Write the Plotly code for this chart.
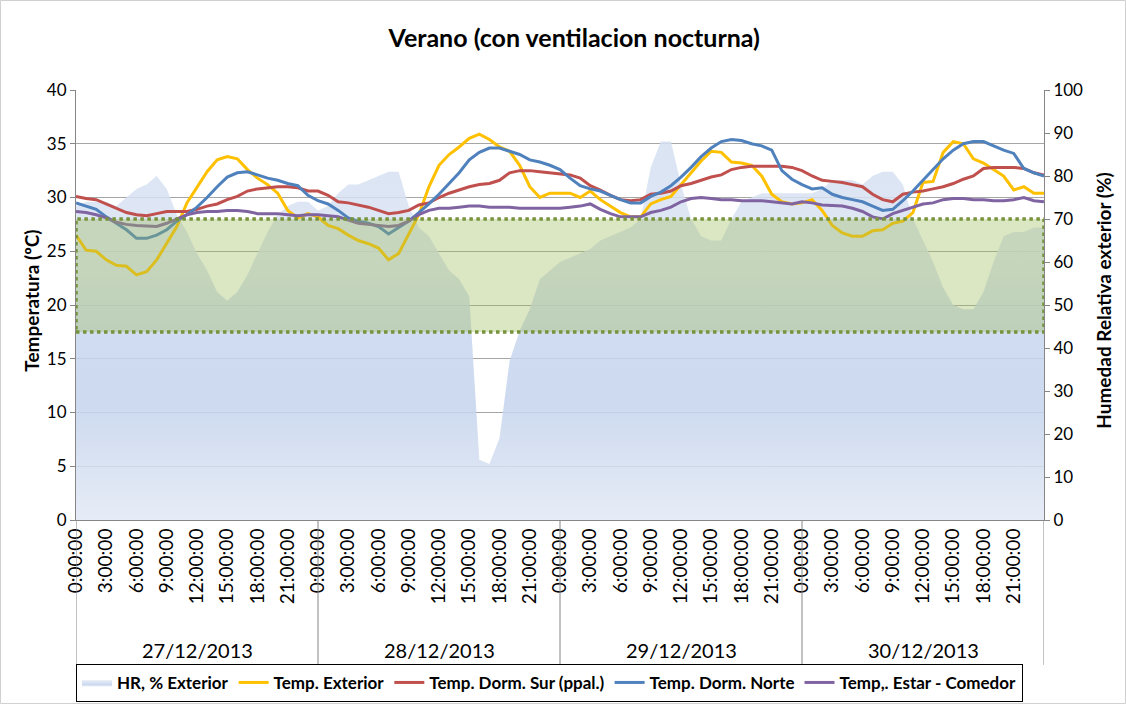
import plotly.graph_objects as go

# Hour index from 27/12/2013 0:00 (0) to 31/12/2013 0:00 (96)
hours = list(range(97))

# Temperature series (ºC), hourly readings
temp_exterior = [
    26.5, 25.1, 25.0, 24.2, 23.7, 23.6, 22.8, 23.1, 24.2, 25.8, 27.3, 29.5,
    31.0, 32.4, 33.5, 33.8, 33.6, 32.6, 31.8, 31.2, 30.4, 28.8, 28.1, 28.5,
    28.2, 27.4, 27.1, 26.5, 26.0, 25.7, 25.3, 24.2, 24.8, 26.6, 28.4, 31.0,
    33.0, 34.0, 34.7, 35.5, 35.9, 35.4, 34.7, 34.3, 33.0, 31.0, 30.0, 30.4,
    30.4, 30.4, 30.0, 30.6, 29.8, 29.2, 28.6, 28.2, 28.2, 29.4, 29.8, 30.1,
    31.2, 32.3, 33.4, 34.3, 34.2, 33.3, 33.2, 33.0, 32.0, 30.3, 29.6, 29.4,
    29.5, 29.8, 28.8, 27.4, 26.7, 26.4, 26.4, 26.9, 27.0, 27.6, 27.8, 28.6,
    31.4, 31.5, 34.2, 35.2, 35.0, 33.6, 33.2, 32.6, 32.0, 30.7, 31.0, 30.4,
    30.4,
]
temp_dorm_sur = [
    30.1, 29.9, 29.8, 29.4, 29.0, 28.6, 28.4, 28.3, 28.5, 28.7, 28.7, 28.7,
    28.9, 29.2, 29.4, 29.8, 30.1, 30.6, 30.8, 30.9, 31.0, 31.0, 30.9, 30.6,
    30.6, 30.2, 29.6, 29.5, 29.3, 29.1, 28.8, 28.5, 28.6, 28.8, 29.3, 29.5,
    30.0, 30.4, 30.7, 31.0, 31.2, 31.3, 31.6, 32.3, 32.5, 32.5, 32.4, 32.3,
    32.2, 32.1, 31.8, 31.1, 30.7, 30.2, 29.8, 29.7, 29.8, 30.3, 30.4, 30.6,
    31.1, 31.3, 31.6, 31.9, 32.1, 32.6, 32.8, 32.9, 32.9, 32.9, 32.9, 32.8,
    32.5, 32.0, 31.6, 31.5, 31.4, 31.2, 31.0, 30.3, 29.8, 29.6, 30.3, 30.5,
    30.6, 30.8, 31.0, 31.3, 31.7, 32.0, 32.7, 32.8, 32.8, 32.8, 32.7, 32.3,
    32.1,
]
temp_dorm_norte = [
    29.5, 29.2, 28.9, 28.2, 27.6, 27.0, 26.2, 26.2, 26.5, 27.0, 27.8, 28.4,
    29.1, 30.0, 31.0, 31.9, 32.3, 32.4, 32.1, 31.8, 31.6, 31.3, 31.1, 30.2,
    29.7, 29.4, 28.8, 28.1, 27.8, 27.6, 27.3, 26.6, 27.2, 27.8, 28.6, 29.4,
    30.3, 31.3, 32.3, 33.5, 34.2, 34.6, 34.6, 34.3, 34.0, 33.5, 33.3, 33.0,
    32.6, 31.8, 31.1, 30.8, 30.6, 30.2, 29.8, 29.5, 29.5, 30.1, 30.5, 31.1,
    31.9, 32.8, 33.8, 34.6, 35.2, 35.4, 35.3, 35.0, 34.8, 34.4, 32.5, 31.7,
    31.2, 30.8, 30.9, 30.3, 30.0, 29.8, 29.6, 29.2, 28.8, 28.9, 29.7, 30.6,
    31.6, 32.6, 33.6, 34.4, 35.0, 35.2, 35.2, 34.8, 34.4, 34.1, 32.7, 32.3,
    32.0,
]
temp_estar_comedor = [
    28.7, 28.6, 28.4, 28.1, 27.7, 27.5, 27.4, 27.35, 27.3, 27.6, 28.0, 28.4,
    28.6, 28.7, 28.7, 28.8, 28.8, 28.7, 28.5, 28.5, 28.5, 28.4, 28.3, 28.4,
    28.4, 28.3, 28.2, 27.9, 27.6, 27.5, 27.4, 27.3, 27.4, 27.8, 28.4, 28.8,
    29.0, 29.0, 29.1, 29.2, 29.2, 29.1, 29.1, 29.1, 29.0, 29.0, 29.0, 29.0,
    29.0, 29.1, 29.2, 29.4, 28.9, 28.5, 28.2, 28.2, 28.2, 28.6, 28.8, 29.1,
    29.6, 29.9, 30.0, 29.9, 29.8, 29.8, 29.7, 29.7, 29.7, 29.6, 29.5, 29.4,
    29.6, 29.5, 29.3, 29.25, 29.2, 29.0, 28.7, 28.2, 28.0, 28.5, 28.8, 29.1,
    29.4, 29.5, 29.8, 29.9, 29.9, 29.8, 29.8, 29.7, 29.7, 29.8, 30.0, 29.7,
    29.6,
]
# Outdoor relative humidity (%)
hr_exterior = [
    73, 74, 74, 74, 73, 75, 77, 78, 80, 77, 71, 67,
    62, 58, 53, 51, 53, 57, 62, 67, 71, 73, 74, 74,
    72, 73, 76, 78, 78, 79, 80, 81, 81, 73, 68, 66,
    62, 58, 56, 52, 14, 13, 19, 37, 44, 49, 56, 58,
    60, 61, 62, 63, 65, 66, 67, 68, 70, 82, 88, 88,
    78, 70, 66, 65, 65, 70, 74, 75, 76, 76, 76, 76,
    76, 76, 77, 79, 79, 79, 78, 80, 81, 81, 78, 70,
    65, 60, 54, 50, 49, 49, 53, 60, 66, 67, 67, 68,
    68,
]

# Axis labels
hour_ticks = list(range(0, 96, 3))
hour_labels = [f"{(h % 24)}:00:00" for h in hour_ticks]
day_labels = ["27/12/2013", "28/12/2013", "29/12/2013", "30/12/2013"]
day_bounds = [0, 24, 48, 72, 96]

# Comfort band (ºC)
comfort_low, comfort_high = 17.5, 28.0

FONT = "Lato"
GRID = "#a6a6a6"
AXIS = "#868686"

fig = go.Figure()

# Humidity sits on the base axis (right side) so the temperature
# lines, on the overlaying axis, are drawn on top of it.
fig.add_trace(go.Scatter(
    x=hours, y=hr_exterior, name="HR, % Exterior", yaxis="y",
    mode="lines", line=dict(width=0, color="rgba(190,206,234,0.8)"),
    fill="tozeroy",
    fillgradient=dict(
        type="vertical", start=0, stop=90,
        colorscale=[[0, "rgba(226,233,245,0.85)"],
                    [0.3, "rgba(196,211,236,0.85)"],
                    [0.48, "rgba(200,214,238,0.85)"],
                    [0.7, "rgba(218,227,243,0.85)"],
                    [1, "rgba(212,223,241,0.85)"]],
    ),
    hoverinfo="skip",
))

line_series = [
    ("Temp. Exterior", temp_exterior, "#FFC000"),
    ("Temp. Dorm. Sur (ppal.)", temp_dorm_sur, "#C0504D"),
    ("Temp. Dorm. Norte", temp_dorm_norte, "#4F81BD"),
    ("Temp,. Estar - Comedor", temp_estar_comedor, "#8064A2"),
]
for name, vals, color in line_series:
    fig.add_trace(go.Scatter(x=hours, y=vals, name=name, mode="lines",
                             yaxis="y2", line=dict(color=color, width=3)))

shapes = [
    dict(type="rect", xref="x", yref="y2", x0=day_bounds[0], x1=day_bounds[-1],
         y0=comfort_low, y1=comfort_high, layer="above",
         fillcolor="rgba(155,187,89,0.36)",
         line=dict(color="#77933C", width=3.5, dash="dot")),
    dict(type="rect", xref="paper", yref="paper", x0=-0.078, x1=1.0842,
         y0=-0.4267, y1=1.2081, line=dict(color="#d0d0d0", width=1)),
]
for b in day_bounds:
    shapes.append(dict(type="line", xref="x", yref="paper", x0=b, x1=b,
                       y0=0, y1=-0.337, line=dict(color=AXIS, width=1)))

annotations = [
    dict(text=d, x=(day_bounds[i] + day_bounds[i + 1]) / 2, xref="x",
         y=-0.302, yref="paper", yanchor="middle", showarrow=False,
         font=dict(family=FONT, size=20, color="#000"))
    for i, d in enumerate(day_labels)
]
annotations += [
    dict(text="<b>Temperatura (ºC)</b>", x=-0.0455, xref="paper", y=0.51,
         yref="paper", xanchor="center", yanchor="middle", showarrow=False,
         textangle=-90, font=dict(family=FONT, size=19, color="#000")),
    dict(text="<b>Humedad Relativa exterior (%)</b>", x=1.062, xref="paper",
         y=0.51, yref="paper", xanchor="center", yanchor="middle",
         showarrow=False, textangle=-90,
         font=dict(family=FONT, size=19, color="#000")),
]

fig.update_layout(
    width=1126, height=704, autosize=False,
    margin=dict(l=76, r=82, t=90, b=184),
    paper_bgcolor="white", plot_bgcolor="white",
    font=dict(family=FONT, color="#000"),
    title=dict(text="<b>Verano (con ventilacion nocturna)</b>", x=0.51,
               xref="container", y=0.946, yanchor="middle",
               font=dict(family=FONT, size=25, color="#000")),
    xaxis=dict(range=[0, 96], tickmode="array", tickvals=hour_ticks,
               ticktext=hour_labels, tickangle=-90, showgrid=False,
               zeroline=False, showline=True, linecolor=AXIS, ticks="",
               tickfont=dict(family=FONT, size=19, color="#000")),
    yaxis=dict(range=[0, 100], dtick=10, side="right",
               showgrid=False, zeroline=False, showline=True, linecolor=AXIS,
               ticks="outside", ticklen=5, tickcolor=AXIS,
               tickfont=dict(family=FONT, size=17, color="#000")),
    yaxis2=dict(range=[0, 40], dtick=5, overlaying="y", side="left",
                showgrid=True, gridcolor=GRID, zeroline=False, showline=True,
                linecolor=AXIS, ticks="outside", ticklen=5, tickcolor=AXIS,
                tickfont=dict(family=FONT, size=17, color="#000")),
    legend=dict(orientation="h", x=0, xanchor="left", xref="paper",
                y=0.003, yref="container", yanchor="bottom",
                bgcolor="white", bordercolor="#000", borderwidth=1,
                font=dict(family=FONT, size=17, color="#000", weight="bold"),
                itemwidth=30, tracegroupgap=0),
    shapes=shapes,
    annotations=annotations,
    showlegend=True,
)

fig.write_html("out.html")
